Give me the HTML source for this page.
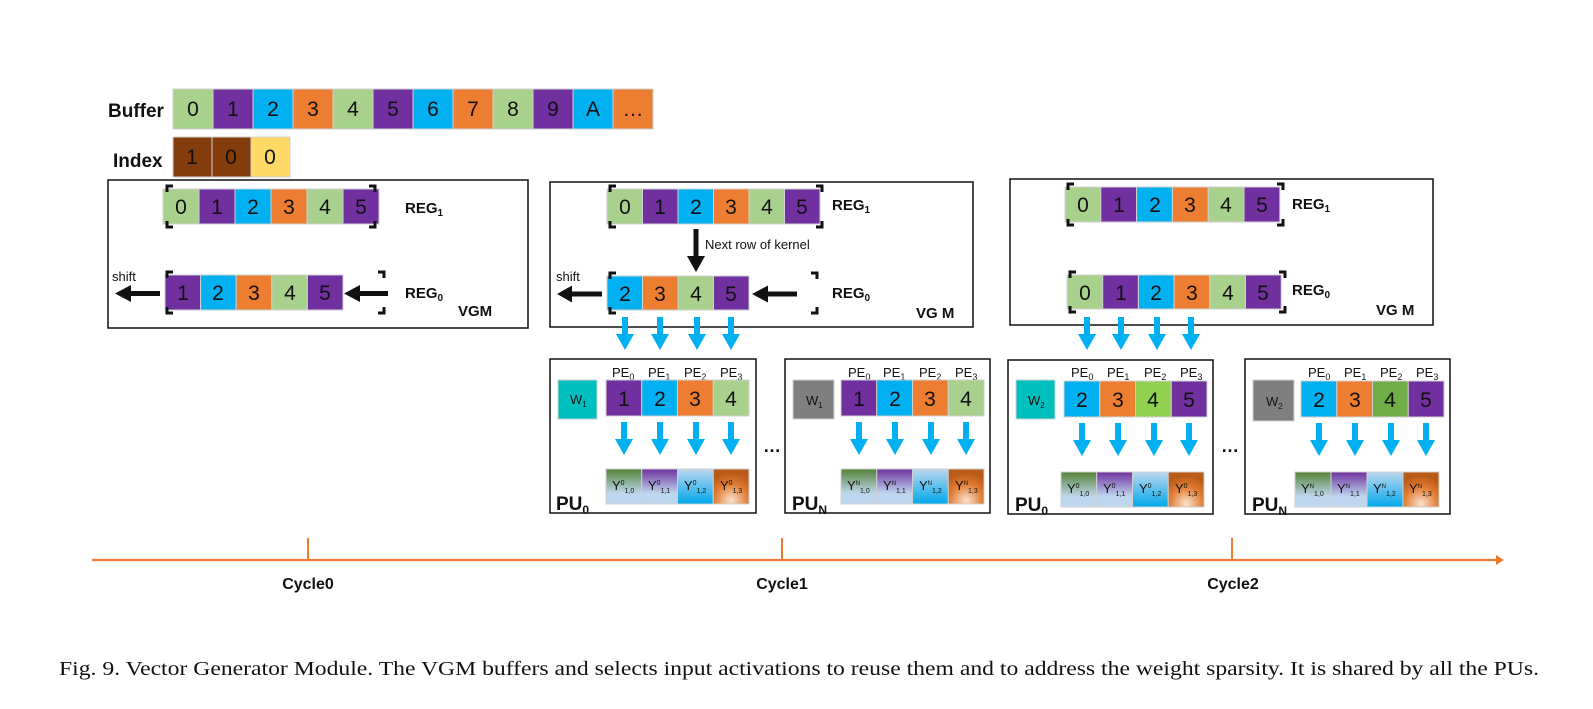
<!DOCTYPE html>
<html><head><meta charset="utf-8"><style>
html,body{margin:0;padding:0;background:#fff;}
svg{display:block;}
.n{font-family:"Liberation Sans",sans-serif;font-size:21px;text-anchor:middle;fill:#111;}
.lb{font-family:"Liberation Sans",sans-serif;font-weight:bold;fill:#111;}
.sm{font-family:"Liberation Sans",sans-serif;font-size:13px;fill:#111;}
.c{stroke:#d0d0d0;stroke-width:1;}
</style></head><body>
<svg width="1593" height="709" viewBox="0 0 1593 709" xmlns="http://www.w3.org/2000/svg">
<defs>
<linearGradient id="yg" x1="0" y1="0" x2="0" y2="1"><stop offset="0" stop-color="#548235"/><stop offset="0.7" stop-color="#bdd7ee"/><stop offset="1" stop-color="#bdd7ee"/></linearGradient>
<linearGradient id="yp" x1="0" y1="0" x2="0" y2="1"><stop offset="0" stop-color="#7030a0"/><stop offset="0.7" stop-color="#bdd7ee"/><stop offset="1" stop-color="#bdd7ee"/></linearGradient>
<linearGradient id="yb" x1="0" y1="0" x2="0" y2="1"><stop offset="0" stop-color="#bdd7ee"/><stop offset="1" stop-color="#00a8ec"/></linearGradient>
<radialGradient id="yo" cx="0.5" cy="0.9" r="0.8"><stop offset="0" stop-color="#fbe0cc"/><stop offset="0.6" stop-color="#e07a30"/><stop offset="1" stop-color="#b85a18"/></radialGradient>
<g id="ba"><rect x="-3" y="0" width="6" height="18" fill="#00b0f0"/><polygon points="-9,17 9,17 0,33" fill="#00b0f0"/></g>
</defs>

<!-- Buffer -->
<text class="lb" x="108" y="117" font-size="19">Buffer</text>
<g class="c">
<rect x="173" y="89" width="40" height="40" fill="#a9d18e"/><rect x="213" y="89" width="40" height="40" fill="#7030a0"/><rect x="253" y="89" width="40" height="40" fill="#00b0f0"/><rect x="293" y="89" width="40" height="40" fill="#ed7d31"/><rect x="333" y="89" width="40" height="40" fill="#a9d18e"/><rect x="373" y="89" width="40" height="40" fill="#7030a0"/><rect x="413" y="89" width="40" height="40" fill="#00b0f0"/><rect x="453" y="89" width="40" height="40" fill="#ed7d31"/><rect x="493" y="89" width="40" height="40" fill="#a9d18e"/><rect x="533" y="89" width="40" height="40" fill="#7030a0"/><rect x="573" y="89" width="40" height="40" fill="#00b0f0"/><rect x="613" y="89" width="40" height="40" fill="#ed7d31"/>
</g>
<g class="n" font-size="19"><text x="193" y="116">0</text><text x="233" y="116">1</text><text x="273" y="116">2</text><text x="313" y="116">3</text><text x="353" y="116">4</text><text x="393" y="116">5</text><text x="433" y="116">6</text><text x="473" y="116">7</text><text x="513" y="116">8</text><text x="553" y="116">9</text><text x="593" y="116">A</text><text x="633" y="116">…</text></g>

<!-- Index -->
<text class="lb" x="113" y="167" font-size="19">Index</text>
<g class="c"><rect x="173" y="137" width="39" height="40" fill="#843c0c"/><rect x="212" y="137" width="39" height="40" fill="#843c0c"/><rect x="251" y="137" width="39" height="40" fill="#ffd966"/></g>
<g class="n" font-size="19"><text x="192" y="164">1</text><text x="231" y="164">0</text><text x="270" y="164">0</text></g>

<!-- VGM 1 -->
<rect x="108" y="180" width="420" height="148" fill="none" stroke="#111" stroke-width="1.5"/>
<g class="c"><rect x="163" y="189" width="36" height="35" fill="#a9d18e"/><rect x="199" y="189" width="36" height="35" fill="#7030a0"/><rect x="235" y="189" width="36" height="35" fill="#00b0f0"/><rect x="271" y="189" width="36" height="35" fill="#ed7d31"/><rect x="307" y="189" width="36" height="35" fill="#a9d18e"/><rect x="343" y="189" width="36" height="35" fill="#7030a0"/></g>
<g class="n"><text x="181" y="214">0</text><text x="217" y="214">1</text><text x="253" y="214">2</text><text x="289" y="214">3</text><text x="325" y="214">4</text><text x="361" y="214">5</text></g>
<path d="M167,192 v-6 h6 M167,221 v6 h6 M375,192 v-6 h-6 M375,221 v6 h-6" fill="none" stroke="#111" stroke-width="3"/>
<text class="lb" x="405" y="213" font-size="15">REG<tspan font-size="10" dy="3">1</tspan></text>
<g class="c"><rect x="165" y="275" width="35.6" height="35" fill="#7030a0"/><rect x="200.6" y="275" width="35.6" height="35" fill="#00b0f0"/><rect x="236.2" y="275" width="35.6" height="35" fill="#ed7d31"/><rect x="271.8" y="275" width="35.6" height="35" fill="#a9d18e"/><rect x="307.4" y="275" width="35.6" height="35" fill="#7030a0"/></g>
<g class="n"><text x="183" y="300">1</text><text x="218" y="300">2</text><text x="254" y="300">3</text><text x="290" y="300">4</text><text x="325" y="300">5</text></g>
<path d="M167,278 v-6 h6 M167,307 v6 h6 M384,278 v-6 h-6 M384,307 v6 h-6" fill="none" stroke="#111" stroke-width="3"/>
<text class="sm" x="112" y="281" font-size="14">shift</text>
<rect x="127" y="291" width="33" height="5" fill="#111"/><polygon points="115,293.5 131,285 131,302" fill="#111"/>
<rect x="356" y="291" width="32" height="5" fill="#111"/><polygon points="344,293.5 360,285 360,302" fill="#111"/>
<text class="lb" x="405" y="298" font-size="15">REG<tspan font-size="10" dy="3">0</tspan></text>
<text class="lb" x="458" y="316" font-size="15">VGM</text>

<!-- VGM 2 -->
<rect x="550" y="182" width="423" height="145" fill="none" stroke="#111" stroke-width="1.5"/>
<g class="c"><rect x="607" y="189" width="35.5" height="35" fill="#a9d18e"/><rect x="642.5" y="189" width="35.5" height="35" fill="#7030a0"/><rect x="678" y="189" width="35.5" height="35" fill="#00b0f0"/><rect x="713.5" y="189" width="35.5" height="35" fill="#ed7d31"/><rect x="749" y="189" width="35.5" height="35" fill="#a9d18e"/><rect x="784.5" y="189" width="35.5" height="35" fill="#7030a0"/></g>
<g class="n"><text x="625" y="214">0</text><text x="660" y="214">1</text><text x="696" y="214">2</text><text x="731" y="214">3</text><text x="767" y="214">4</text><text x="802" y="214">5</text></g>
<path d="M610,192 v-6 h6 M610,221 v6 h6 M822,192 v-6 h-6 M822,221 v6 h-6" fill="none" stroke="#111" stroke-width="3"/>
<text class="lb" x="832" y="210" font-size="15">REG<tspan font-size="10" dy="3">1</tspan></text>
<rect x="693.5" y="229" width="5" height="30" fill="#111"/><polygon points="687,256 705,256 696,272" fill="#111"/>
<text class="sm" x="705" y="249" font-size="10.5">Next row of kernel</text>
<g class="c"><rect x="607" y="276" width="35.5" height="34" fill="#00b0f0"/><rect x="642.5" y="276" width="35.5" height="34" fill="#ed7d31"/><rect x="678" y="276" width="35.5" height="34" fill="#a9d18e"/><rect x="713.5" y="276" width="35.5" height="34" fill="#7030a0"/></g>
<g class="n"><text x="625" y="301">2</text><text x="660" y="301">3</text><text x="696" y="301">4</text><text x="731" y="301">5</text></g>
<path d="M610,279 v-6 h6 M610,307 v6 h6 M817,279 v-6 h-6 M817,307 v6 h-6" fill="none" stroke="#111" stroke-width="3"/>
<text class="sm" x="556" y="281" font-size="14">shift</text>
<rect x="568" y="291.5" width="34" height="5" fill="#111"/><polygon points="557,294 572,285.5 572,302.5" fill="#111"/>
<rect x="765" y="291.5" width="32" height="5" fill="#111"/><polygon points="752,294 768,285.5 768,302.5" fill="#111"/>
<text class="lb" x="832" y="298" font-size="15">REG<tspan font-size="10" dy="3">0</tspan></text>
<text class="lb" x="916" y="318" font-size="15">VG M</text>
<use href="#ba" x="625" y="317"/><use href="#ba" x="660" y="317"/><use href="#ba" x="697" y="317"/><use href="#ba" x="731" y="317"/>

<!-- VGM 3 -->
<rect x="1010" y="179" width="423" height="146" fill="none" stroke="#111" stroke-width="1.5"/>
<g class="c"><rect x="1065" y="187" width="35.8" height="35" fill="#a9d18e"/><rect x="1100.8" y="187" width="35.8" height="35" fill="#7030a0"/><rect x="1136.6" y="187" width="35.8" height="35" fill="#00b0f0"/><rect x="1172.4" y="187" width="35.8" height="35" fill="#ed7d31"/><rect x="1208.2" y="187" width="35.8" height="35" fill="#a9d18e"/><rect x="1244" y="187" width="35.8" height="35" fill="#7030a0"/></g>
<g class="n"><text x="1083" y="212">0</text><text x="1119" y="212">1</text><text x="1155" y="212">2</text><text x="1190" y="212">3</text><text x="1226" y="212">4</text><text x="1262" y="212">5</text></g>
<path d="M1068,190 v-6 h6 M1068,219 v6 h6 M1283,190 v-6 h-6 M1283,219 v6 h-6" fill="none" stroke="#111" stroke-width="3"/>
<text class="lb" x="1292" y="209" font-size="15">REG<tspan font-size="10" dy="3">1</tspan></text>
<g class="c"><rect x="1067" y="275" width="35.7" height="34" fill="#a9d18e"/><rect x="1102.7" y="275" width="35.7" height="34" fill="#7030a0"/><rect x="1138.4" y="275" width="35.7" height="34" fill="#00b0f0"/><rect x="1174.1" y="275" width="35.7" height="34" fill="#ed7d31"/><rect x="1209.8" y="275" width="35.7" height="34" fill="#a9d18e"/><rect x="1245.5" y="275" width="35.7" height="34" fill="#7030a0"/></g>
<g class="n"><text x="1085" y="300">0</text><text x="1121" y="300">1</text><text x="1156" y="300">2</text><text x="1192" y="300">3</text><text x="1228" y="300">4</text><text x="1263" y="300">5</text></g>
<path d="M1070,278 v-6 h6 M1070,306 v6 h6 M1285,278 v-6 h-6 M1285,306 v6 h-6" fill="none" stroke="#111" stroke-width="3"/>
<text class="lb" x="1292" y="295" font-size="15">REG<tspan font-size="10" dy="3">0</tspan></text>
<text class="lb" x="1376" y="315" font-size="15">VG M</text>
<use href="#ba" x="1087" y="317"/><use href="#ba" x="1121" y="317"/><use href="#ba" x="1157" y="317"/><use href="#ba" x="1191" y="317"/>

<!-- PU boxes -->
<g fill="none" stroke="#111" stroke-width="1.5">
<rect x="550" y="359" width="206" height="154"/><rect x="785" y="359" width="205" height="154"/>
<rect x="1008" y="360" width="205" height="154"/><rect x="1245" y="359" width="205" height="155"/>
</g>
<!-- PU0 cycle1 -->
<rect class="c" x="558" y="380" width="39" height="39" fill="#00bfbf"/><text class="sm" x="570" y="404">W<tspan font-size="8" dy="3">1</tspan></text>
<g class="sm"><text x="612" y="377">PE<tspan font-size="9" dy="3">0</tspan></text><text x="648" y="377">PE<tspan font-size="9" dy="3">1</tspan></text><text x="684" y="377">PE<tspan font-size="9" dy="3">2</tspan></text><text x="720" y="377">PE<tspan font-size="9" dy="3">3</tspan></text></g>
<g class="c"><rect x="606" y="380" width="35.75" height="36" fill="#7030a0"/><rect x="641.75" y="380" width="35.75" height="36" fill="#00b0f0"/><rect x="677.5" y="380" width="35.75" height="36" fill="#ed7d31"/><rect x="713.25" y="380" width="35.75" height="36" fill="#a9d18e"/></g>
<g class="n"><text x="624" y="406">1</text><text x="660" y="406">2</text><text x="695" y="406">3</text><text x="731" y="406">4</text></g>
<use href="#ba" x="624" y="422"/><use href="#ba" x="660" y="422"/><use href="#ba" x="696" y="422"/><use href="#ba" x="731" y="422"/>
<g class="c"><rect x="606" y="469" width="35.75" height="35" fill="url(#yg)"/><rect x="641.75" y="469" width="35.75" height="35" fill="url(#yp)"/><rect x="677.5" y="469" width="35.75" height="35" fill="url(#yb)"/><rect x="713.25" y="469" width="35.75" height="35" fill="url(#yo)"/></g>
<g class="sm" font-size="11"><text x="612" y="490">Y<tspan font-size="7" dy="-5">0</tspan><tspan font-size="7" dy="8">1,0</tspan></text><text x="648" y="490">Y<tspan font-size="7" dy="-5">0</tspan><tspan font-size="7" dy="8">1,1</tspan></text><text x="684" y="490">Y<tspan font-size="7" dy="-5">0</tspan><tspan font-size="7" dy="8">1,2</tspan></text><text x="720" y="490">Y<tspan font-size="7" dy="-5">0</tspan><tspan font-size="7" dy="8">1,3</tspan></text></g>
<text class="lb" x="556" y="510" font-size="19">PU<tspan font-size="12" dy="4">0</tspan></text>
<text class="lb" x="763" y="452" font-size="18">…</text>

<!-- PUN cycle1 -->
<rect class="c" x="793" y="380" width="41" height="39" fill="#7f7f7f"/><text class="sm" x="806" y="405">W<tspan font-size="8" dy="3">1</tspan></text>
<g class="sm"><text x="848" y="377">PE<tspan font-size="9" dy="3">0</tspan></text><text x="883" y="377">PE<tspan font-size="9" dy="3">1</tspan></text><text x="919" y="377">PE<tspan font-size="9" dy="3">2</tspan></text><text x="955" y="377">PE<tspan font-size="9" dy="3">3</tspan></text></g>
<g class="c"><rect x="841" y="380" width="35.75" height="36" fill="#7030a0"/><rect x="876.75" y="380" width="35.75" height="36" fill="#00b0f0"/><rect x="912.5" y="380" width="35.75" height="36" fill="#ed7d31"/><rect x="948.25" y="380" width="35.75" height="36" fill="#a9d18e"/></g>
<g class="n"><text x="859" y="406">1</text><text x="895" y="406">2</text><text x="930" y="406">3</text><text x="966" y="406">4</text></g>
<use href="#ba" x="859" y="422"/><use href="#ba" x="895" y="422"/><use href="#ba" x="931" y="422"/><use href="#ba" x="966" y="422"/>
<g class="c"><rect x="841" y="469" width="35.75" height="35" fill="url(#yg)"/><rect x="876.75" y="469" width="35.75" height="35" fill="url(#yp)"/><rect x="912.5" y="469" width="35.75" height="35" fill="url(#yb)"/><rect x="948.25" y="469" width="35.75" height="35" fill="url(#yo)"/></g>
<g class="sm" font-size="10"><text x="847" y="490">Y<tspan font-size="6" dy="-5">N</tspan><tspan font-size="7" dy="8">1,0</tspan></text><text x="883" y="490">Y<tspan font-size="6" dy="-5">N</tspan><tspan font-size="7" dy="8">1,1</tspan></text><text x="919" y="490">Y<tspan font-size="6" dy="-5">N</tspan><tspan font-size="7" dy="8">1,2</tspan></text><text x="955" y="490">Y<tspan font-size="6" dy="-5">N</tspan><tspan font-size="7" dy="8">1,3</tspan></text></g>
<text class="lb" x="792" y="510" font-size="19">PU<tspan font-size="12" dy="4">N</tspan></text>

<!-- PU0 cycle2 -->
<rect class="c" x="1016" y="380" width="39" height="39" fill="#00bfbf"/><text class="sm" x="1028" y="405">W<tspan font-size="8" dy="3">2</tspan></text>
<g class="sm"><text x="1071" y="377">PE<tspan font-size="9" dy="3">0</tspan></text><text x="1107" y="377">PE<tspan font-size="9" dy="3">1</tspan></text><text x="1144" y="377">PE<tspan font-size="9" dy="3">2</tspan></text><text x="1180" y="377">PE<tspan font-size="9" dy="3">3</tspan></text></g>
<g class="c"><rect x="1064" y="381" width="35.75" height="36" fill="#00b0f0"/><rect x="1099.75" y="381" width="35.75" height="36" fill="#ed7d31"/><rect x="1135.5" y="381" width="35.75" height="36" fill="#92d050"/><rect x="1171.25" y="381" width="35.75" height="36" fill="#7030a0"/></g>
<g class="n"><text x="1082" y="407">2</text><text x="1118" y="407">3</text><text x="1153" y="407">4</text><text x="1189" y="407">5</text></g>
<use href="#ba" x="1082" y="423"/><use href="#ba" x="1118" y="423"/><use href="#ba" x="1154" y="423"/><use href="#ba" x="1189" y="423"/>
<g class="c"><rect x="1061" y="472" width="35.75" height="35" fill="url(#yg)"/><rect x="1096.75" y="472" width="35.75" height="35" fill="url(#yp)"/><rect x="1132.5" y="472" width="35.75" height="35" fill="url(#yb)"/><rect x="1168.25" y="472" width="35.75" height="35" fill="url(#yo)"/></g>
<g class="sm" font-size="11"><text x="1067" y="493">Y<tspan font-size="7" dy="-5">0</tspan><tspan font-size="7" dy="8">1,0</tspan></text><text x="1103" y="493">Y<tspan font-size="7" dy="-5">0</tspan><tspan font-size="7" dy="8">1,1</tspan></text><text x="1139" y="493">Y<tspan font-size="7" dy="-5">0</tspan><tspan font-size="7" dy="8">1,2</tspan></text><text x="1175" y="493">Y<tspan font-size="7" dy="-5">0</tspan><tspan font-size="7" dy="8">1,3</tspan></text></g>
<text class="lb" x="1015" y="511" font-size="19">PU<tspan font-size="12" dy="4">0</tspan></text>
<text class="lb" x="1221" y="452" font-size="18">…</text>

<!-- PUN cycle2 -->
<rect class="c" x="1253" y="380" width="41" height="41" fill="#7f7f7f"/><text class="sm" x="1266" y="406">W<tspan font-size="8" dy="3">2</tspan></text>
<g class="sm"><text x="1308" y="377">PE<tspan font-size="9" dy="3">0</tspan></text><text x="1344" y="377">PE<tspan font-size="9" dy="3">1</tspan></text><text x="1380" y="377">PE<tspan font-size="9" dy="3">2</tspan></text><text x="1416" y="377">PE<tspan font-size="9" dy="3">3</tspan></text></g>
<g class="c"><rect x="1301" y="381" width="35.75" height="36" fill="#00b0f0"/><rect x="1336.75" y="381" width="35.75" height="36" fill="#ed7d31"/><rect x="1372.5" y="381" width="35.75" height="36" fill="#70ad47"/><rect x="1408.25" y="381" width="35.75" height="36" fill="#7030a0"/></g>
<g class="n"><text x="1319" y="407">2</text><text x="1355" y="407">3</text><text x="1390" y="407">4</text><text x="1426" y="407">5</text></g>
<use href="#ba" x="1319" y="423"/><use href="#ba" x="1355" y="423"/><use href="#ba" x="1391" y="423"/><use href="#ba" x="1426" y="423"/>
<g class="c"><rect x="1295" y="472" width="36" height="35" fill="url(#yg)"/><rect x="1331" y="472" width="36" height="35" fill="url(#yp)"/><rect x="1367" y="472" width="36" height="35" fill="url(#yb)"/><rect x="1403" y="472" width="36" height="35" fill="url(#yo)"/></g>
<g class="sm" font-size="10"><text x="1301" y="493">Y<tspan font-size="6" dy="-5">N</tspan><tspan font-size="7" dy="8">1,0</tspan></text><text x="1337" y="493">Y<tspan font-size="6" dy="-5">N</tspan><tspan font-size="7" dy="8">1,1</tspan></text><text x="1373" y="493">Y<tspan font-size="6" dy="-5">N</tspan><tspan font-size="7" dy="8">1,2</tspan></text><text x="1409" y="493">Y<tspan font-size="6" dy="-5">N</tspan><tspan font-size="7" dy="8">1,3</tspan></text></g>
<text class="lb" x="1252" y="511" font-size="19">PU<tspan font-size="12" dy="4">N</tspan></text>

<!-- timeline -->
<line x1="92" y1="560" x2="1496" y2="560" stroke="#ed7d31" stroke-width="2.2"/>
<polygon points="1496,555 1504,560 1496,565" fill="#ed7d31"/>
<line x1="308" y1="538" x2="308" y2="560" stroke="#ed7d31" stroke-width="2"/>
<line x1="782" y1="538" x2="782" y2="560" stroke="#ed7d31" stroke-width="2"/>
<line x1="1232" y1="538" x2="1232" y2="560" stroke="#ed7d31" stroke-width="2"/>
<g class="lb" font-size="16" text-anchor="middle"><text x="308" y="589">Cycle0</text><text x="782" y="589">Cycle1</text><text x="1233" y="589">Cycle2</text></g>

<text x="59" y="675" font-family="Liberation Serif,serif" font-size="20" fill="#111" textLength="1480" lengthAdjust="spacingAndGlyphs">Fig. 9.  Vector Generator Module. The VGM buffers and selects input activations to reuse them and to address the weight sparsity. It is shared by all the PUs.</text>
</svg>
</body></html>
